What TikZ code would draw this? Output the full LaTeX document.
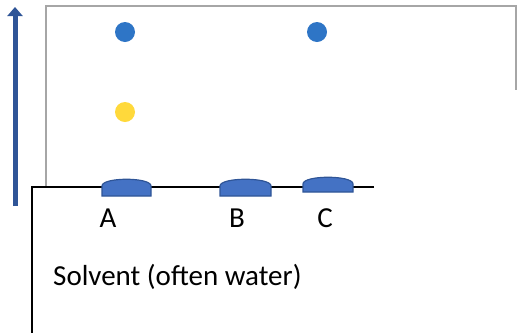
\documentclass[tikz,border=0pt]{standalone}
\usepackage{fontspec}
\setmainfont{Carlito}
\usetikzlibrary{arrows.meta}
\definecolor{spotfill}{HTML}{4472C4}
\definecolor{spotline}{HTML}{2F5597}
\definecolor{dotblue}{HTML}{2E75C6}
\definecolor{dotyellow}{HTML}{FFD93B}
\definecolor{paper}{HTML}{A6A6A6}
\tikzset{
  spot/.style={fill=spotfill, draw=spotline, line width=1.2pt},
  lbl/.style={inner sep=0pt, font=\fontsize{29}{34}\selectfont},
}
\begin{document}
\begin{tikzpicture}[x=1pt,y=-1pt]
\useasboundingbox (0,0) rectangle (518,333);
% paper
\draw[paper, line width=1.5pt] (46,187) -- (46,6) -- (516,6) -- (516,90);
% base line and beaker side
\draw[black, line width=1.3pt] (374,187) -- (32,187) -- (32,333);
% arrow
\draw[spotline, line width=5pt, -{Triangle[width=15pt,length=9pt]}] (15,206) -- (15,7);
% dots
\fill[dotblue] (125,32) circle (10);
\fill[dotblue] (317,32) circle (10);
\fill[dotyellow] (125,112) circle (10);
% spots
\draw[spot] (102,196) -- (102,186) .. controls (102,177) and (151,177) .. (151,186) -- (151,196) -- cycle;
\draw[spot] (220,196) -- (220,186) .. controls (220,177) and (271,177) .. (271,186) -- (271,196) -- cycle;
\draw[spot] (303,192) -- (303,184) .. controls (303,175) and (353,175) .. (353,184) -- (353,192) -- cycle;
% labels
\node[lbl] (la) at (108,218) {A};
\node[lbl] (lb) at (237,218) {B};
\node[lbl] (lc) at (325,218) {C};
\node[lbl, anchor=west] (solv) at (53,277) {Solvent (often water)};
\end{tikzpicture}
\end{document}
